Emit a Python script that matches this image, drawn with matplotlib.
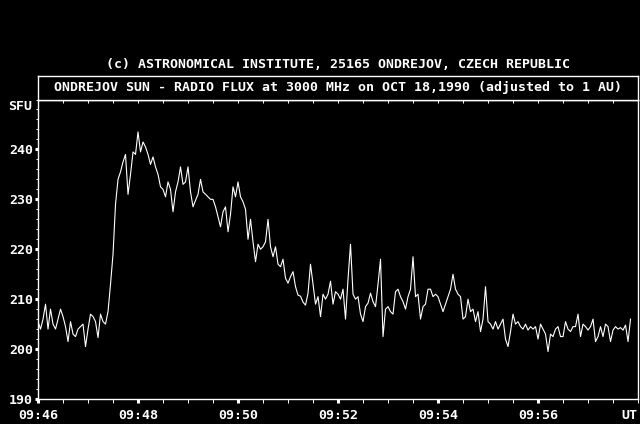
import numpy as np
import matplotlib
matplotlib.use('Agg')
import matplotlib.pyplot as plt
from matplotlib.ticker import MultipleLocator

# radio flux in SFU, one reading every 3 s from 09:46:00 UT
step_s = 3
flux = [
    205.5, 204, 206, 209, 204, 208, 205, 204, 206, 208,
    206.5, 204.5, 201.5, 205.5, 203, 202.5, 204, 204.5, 205, 200.5,
    204, 207, 206.5, 205.5, 202.3, 207, 205.5, 205, 207.5, 213,
    219, 229, 234, 235.5, 237.5, 239, 231, 235, 239.5, 239,
    243.5, 239.5, 241.5, 240.5, 239, 237, 238.5, 236.5, 235, 232.5,
    232, 230.5, 233.5, 232, 227.5, 231.5, 233.5, 236.5, 233, 233.5,
    236.5, 231.5, 228.5, 229.8, 231, 234, 231.5, 231, 230.5, 230,
    230, 228.5, 226.5, 224.5, 227.5, 228.5, 223.5, 227, 232.5, 230.5,
    233.5, 230.5, 229.5, 228, 222, 226, 221.5, 217.5, 221, 220,
    220.5, 221.5, 226, 220.5, 218.5, 220.5, 217, 216.5, 218, 214.2,
    213.2, 214.5, 215.5, 212.5, 210.8, 210.6, 209.4, 208.8, 211.2, 217,
    213, 209, 210.5, 206.5, 211, 210, 211, 213.6, 209, 211.5,
    211, 210, 212, 206, 214, 221, 211, 210, 210.5, 207,
    205.5, 208.5, 209.2, 211.2, 209.5, 208.5, 213, 218, 202.5, 208,
    208.5, 207.5, 207, 211.5, 212, 210.5, 209.5, 208, 210.5, 212,
    218.5, 210.5, 211, 206, 208.5, 209, 212, 212, 210.5, 211,
    210.5, 209, 207.5, 209, 210.5, 212, 215, 212, 211, 210.5,
    206, 206.5, 210, 207.5, 208, 205.5, 207.5, 203.5, 206, 212.5,
    205.5, 205, 204, 205.5, 204, 205, 206, 202, 200.5, 203.5,
    207, 205, 205.5, 204.5, 204, 205, 203.8, 204.5, 204, 204.5,
    202, 205, 204, 203, 199.5, 203, 202.5, 204, 204.5, 202.5,
    202.5, 205.5, 204, 203.5, 204.5, 204.5, 207, 202.5, 205, 204.5,
    203.8, 204.5, 206, 201.5, 202.5, 204.5, 202.5, 205, 204.5, 201.5,
    203.8, 204.5, 204, 204.3, 203.8, 204.8, 201.5, 206,
]
tick_minutes = [46, 48, 50, 52, 54, 56]
tick_labels = ['09:46', '09:48', '09:50', '09:52', '09:54', '09:56']
y_ticks = [190, 200, 210, 220, 230, 240]

minutes = 46 + np.arange(len(flux)) * step_s / 60.0

mono = 'DejaVu Sans Mono'
fsz = 9.5

fig = plt.figure(figsize=(6.4, 4.24), dpi=100, facecolor='black')
ax = fig.add_axes([0.0594, 0.0590, 0.9375, 0.7063], facecolor='black')
ax.plot(minutes, flux, color='white', lw=0.8)

ax.set_xlim(46, 58)
ax.set_ylim(190, 250)
for s in ax.spines.values():
    s.set_color('white')
    s.set_linewidth(1.0)

ax.set_xticks(tick_minutes)
ax.set_xticklabels(tick_labels)
ax.xaxis.set_minor_locator(MultipleLocator(0.5))
ax.set_yticks(y_ticks)
ax.yaxis.set_minor_locator(MultipleLocator(2))
ax.tick_params(axis='x', which='major', direction='out', length=3, width=2.2,
               colors='white', pad=4.5)
ax.tick_params(axis='x', which='minor', direction='out', length=3, width=0.7,
               colors='white')
ax.tick_params(axis='y', which='major', direction='out', length=2.2, width=2.2,
               colors='white', pad=1.5)
ax.tick_params(axis='y', which='minor', direction='out', length=1.5, width=0.7,
               colors='white')
for lab in ax.get_xticklabels() + ax.get_yticklabels():
    lab.set_family(mono)
    lab.set_weight('bold')
    lab.set_fontsize(fsz)

top = ax.secondary_xaxis('top')
top.xaxis.set_major_locator(MultipleLocator(0.5))
top.tick_params(direction='in', length=2.5, width=0.7, colors='white',
                labeltop=False)
top.spines['top'].set_color('white')

# title box sitting on the plot frame
tbox = fig.add_axes([0.0594, 0.7653, 0.9375, 0.0566], facecolor='black')
tbox.set_xticks([])
tbox.set_yticks([])
for s in tbox.spines.values():
    s.set_color('white')
    s.set_linewidth(1.0)
tbox.text(0.5, 0.5, 'ONDREJOV SUN - RADIO FLUX at 3000 MHz on OCT 18,1990 (adjusted to 1 AU)',
          ha='center', va='center', color='white', family=mono,
          weight='bold', fontsize=fsz, transform=tbox.transAxes)

fig.text(0.528, 0.849, '(c) ASTRONOMICAL INSTITUTE, 25165 ONDREJOV, CZECH REPUBLIC',
         ha='center', va='center', color='white', family=mono, weight='bold',
         fontsize=fsz)
fig.text(8 / 640, 0.748, 'SFU', ha='left', va='center', color='white',
         family=mono, weight='bold', fontsize=fsz)
fig.text(637 / 640, 0.0195, 'UT', ha='right', va='center', color='white',
         family=mono, weight='bold', fontsize=fsz)

fig.savefig('out.png', dpi=100, facecolor='black')
